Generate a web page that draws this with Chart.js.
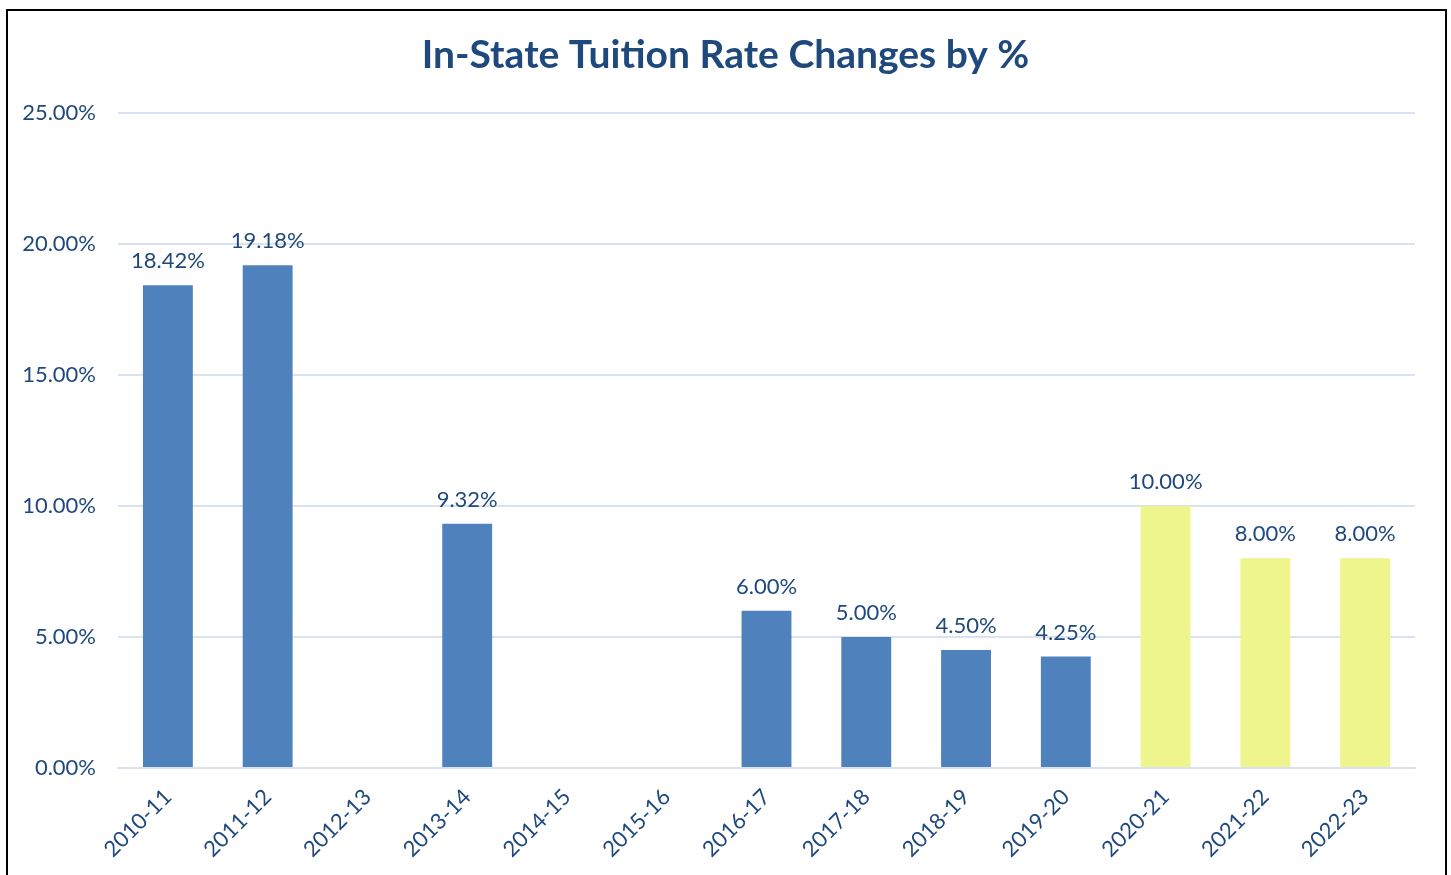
<!DOCTYPE html>
<html>
<head>
<meta charset="utf-8">
<script src="https://cdn.jsdelivr.net/npm/chart.js@4"></script>
<style>
  html, body { margin: 0; padding: 0; background: #fff; overflow: hidden; }
  #wrap { position: relative; width: 1451px; height: 875px; }
  #frame { position: absolute; left: 6px; top: 9px; width: 1437px; height: 900px; border: 2px solid #000; pointer-events: none; }
</style>
</head>
<body>
<div id="wrap">
  <canvas id="chart1" width="1451" height="875"></canvas>
  <div id="frame"></div>
</div>
<script>
const years = ['2010-11', '2011-12', '2012-13', '2013-14', '2014-15', '2015-16', '2016-17',
  '2017-18', '2018-19', '2019-20', '2020-21', '2021-22', '2022-23'];
const rates = [18.42, 19.18, null, 9.32, null, null, 6.00, 5.00, 4.50, 4.25, 10.00, 8.00, 8.00];
const barColors = ['#4F81BD', '#4F81BD', '#4F81BD', '#4F81BD', '#4F81BD', '#4F81BD', '#4F81BD',
  '#4F81BD', '#4F81BD', '#4F81BD', '#EEF58C', '#EEF58C', '#EEF58C'];
const yTicks = [0, 5, 10, 15, 20, 25];

const textBlue = '#1F497D';
const fontName = 'Lato';

// draws the value above each bar
const barLabels = {
    id: 'barLabels',
    afterDatasetsDraw(chart) {
        const c = chart.ctx;
        const meta = chart.getDatasetMeta(0);
        c.save();
        c.font = '22px ' + fontName;
        c.fillStyle = textBlue;
        c.textAlign = 'center';
        c.textBaseline = 'bottom';
        meta.data.forEach((bar, i) => {
            if (rates[i] == null) return;
            c.fillText(rates[i].toFixed(2) + '%', bar.x, bar.y - 13);
        });
        c.restore();
    }
};

const ctx = document.getElementById('chart1').getContext('2d');
const chart1 = new Chart(ctx, {
    type: 'bar',
    data: {
        labels: years,
        datasets: [
            {
                label: 'In-State Tuition Rate Change',
                data: rates,
                backgroundColor: barColors,
                barPercentage: 0.5,
                categoryPercentage: 1.0,
            }
        ]
    },
    options: {
        responsive: false,
        animation: false,
        layout: {
            padding: 0
        },
        scales: {
            y: {
                min: 0,
                max: 25,
                afterFit: scale => { scale.width = 118; },
                afterBuildTicks: scale => { scale.ticks = yTicks.map(v => ({ value: v })); },
                border: { display: false },
                grid: { color: '#D9E2F0', lineWidth: 2, drawTicks: false },
                ticks: {
                    padding: 22,
                    color: textBlue,
                    font: { family: fontName, size: 22 },
                    callback: v => v.toFixed(2) + '%'
                }
            },
            // empty right-hand space so the title centres on the whole frame
            yRight: {
                position: 'right',
                min: 0,
                max: 25,
                afterFit: scale => { scale.width = 36; },
                border: { display: false },
                grid: { display: false },
                ticks: { display: false }
            },
            x: {
                afterFit: scale => { scale.height = 107; },
                border: { color: '#D9E2F0', width: 2 },
                grid: { display: false },
                ticks: {
                    minRotation: 45,
                    maxRotation: 45,
                    padding: 8,
                    color: textBlue,
                    font: { family: fontName, size: 22 }
                }
            }
        },
        plugins: {
            legend: {
                display: false
            },
            tooltip: { enabled: false },
            title: {
                display: true,
                text: 'In-State Tuition Rate Changes by %',
                color: textBlue,
                font: { family: fontName, size: 39, weight: 'bold' },
                padding: { top: 32, bottom: 34 }
            }
        }
    },
    plugins: [barLabels]
});
</script>
</body>
</html>
